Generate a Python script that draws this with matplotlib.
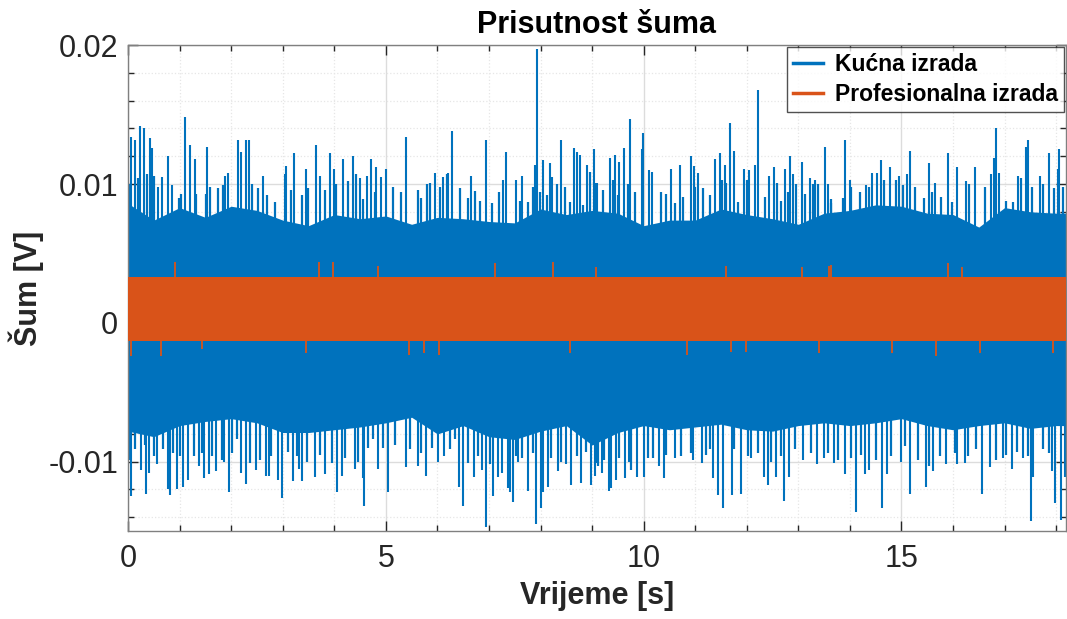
import matplotlib
matplotlib.use("Agg")
import matplotlib.pyplot as plt
from matplotlib.ticker import MultipleLocator
from matplotlib.lines import Line2D

# ---------------- data ----------------
t_env = [0.0, 0.5, 1.0, 1.5, 2.0, 2.5, 3.0, 3.5, 4.0, 4.5, 5.0, 5.5, 6.0, 6.5,
         7.0, 7.5, 8.0, 8.5, 9.0, 9.5, 10.0, 10.5, 11.0, 11.5, 12.0, 12.5,
         13.0, 13.5, 14.0, 14.5, 15.0, 15.5, 16.0, 16.5, 17.0, 17.5, 18.0, 18.19]
kucna_upper = [0.0086, 0.0074, 0.0083, 0.0076, 0.0084, 0.0081, 0.0074, 0.0070,
               0.0078, 0.0075, 0.0077, 0.0071, 0.0076, 0.0075, 0.0073, 0.0072,
               0.0082, 0.0078, 0.0081, 0.0079, 0.0070, 0.0074, 0.0074, 0.0082,
               0.0078, 0.0075, 0.0071, 0.0079, 0.0081, 0.0085, 0.0084, 0.0079,
               0.0078, 0.0069, 0.0083, 0.0080, 0.0079, 0.0079]
kucna_lower = [-0.0078, -0.0082, -0.0074, -0.0071, -0.0069, -0.0072, -0.0079,
               -0.0079, -0.0077, -0.0075, -0.0072, -0.0068, -0.0080, -0.0074,
               -0.0082, -0.0084, -0.0078, -0.0074, -0.0088, -0.0079, -0.0074,
               -0.0077, -0.0075, -0.0073, -0.0077, -0.0078, -0.0074, -0.0072,
               -0.0074, -0.0072, -0.0069, -0.0074, -0.0077, -0.0074, -0.0072,
               -0.0076, -0.0074, -0.0074]

# tall positive spikes
kucna_peak_t = [0.06, 0.14, 0.24, 0.30, 0.42, 0.47, 0.58, 0.66, 0.78, 0.85, 1.10,
                1.20, 1.30, 1.54, 1.88, 1.94, 2.13, 2.20, 2.28, 2.35, 2.62, 3.04,
                3.07, 3.22, 3.46, 3.64, 3.72, 3.92, 3.99, 4.16, 4.37, 4.50,
                4.63, 4.71, 4.81, 4.90, 5.00, 5.39, 5.95, 6.11, 6.20, 6.29, 6.66,
                6.95, 7.27, 7.34, 7.53, 7.64, 7.89, 7.94, 8.05, 8.18, 8.23, 8.39,
                8.65, 8.70, 8.77, 8.91, 9.04, 9.10,
                9.34, 9.45, 9.53, 9.61, 9.74, 9.96, 9.99, 10.10, 10.17, 10.54,
                10.71, 10.91, 10.97, 11.05, 11.39, 11.49, 11.58, 11.67, 11.76,
                11.94, 12.05, 12.16, 12.22, 12.44, 12.52, 12.75, 12.83, 12.89,
                13.07, 13.22, 13.33, 13.51, 13.57,
                13.90, 14.00, 14.31, 14.42, 14.52, 14.61, 14.77, 14.96, 15.10,
                15.17, 15.53, 15.66, 15.90, 16.07, 16.25, 16.43, 16.74, 16.80,
                16.83, 16.90, 17.27, 17.41, 17.46, 17.69, 17.87, 18.03, 18.06]
kucna_peak_v = [0.0134, 0.0132, 0.0142, 0.0140, 0.0133, 0.0126, 0.0098, 0.0105,
                0.0120, 0.0099, 0.0148, 0.0128, 0.0118, 0.0127, 0.0106, 0.0108,
                0.0132, 0.0123, 0.0132, 0.0132, 0.0106, 0.0107, 0.0113, 0.0122,
                0.0111, 0.0128, 0.0106, 0.0122, 0.0111, 0.0118, 0.0120, 0.0104,
                0.0106, 0.0118, 0.0112, 0.0105, 0.0111, 0.0134, 0.0108, 0.0105,
                0.0108, 0.0138, 0.0106, 0.0132, 0.0103, 0.0123, 0.0103, 0.0106,
                0.0114, 0.0197, 0.0117, 0.0115, 0.0105, 0.0132, 0.0126, 0.0123,
                0.0121, 0.0114, 0.0125, 0.0101,
                0.0119, 0.0121, 0.0116, 0.0126, 0.0147, 0.0125, 0.0137, 0.0110,
                0.0109, 0.0111, 0.0114, 0.0120, 0.0113, 0.0108, 0.0118, 0.0122,
                0.0114, 0.0144, 0.0124, 0.0111, 0.0110, 0.0114, 0.0168, 0.0106,
                0.0112, 0.0111, 0.0120, 0.0107, 0.0116, 0.0104, 0.0103, 0.0127,
                0.0100,
                0.0132, 0.0103, 0.0099, 0.0108, 0.0108, 0.0117, 0.0112, 0.0106,
                0.0107, 0.0124, 0.0115, 0.0101, 0.0122, 0.0112, 0.0102, 0.0112,
                0.0107, 0.0119, 0.0140, 0.0108, 0.0106, 0.0127, 0.0132, 0.0106,
                0.0122, 0.0111, 0.0125]

# medium positive peaks (the "grass" above the dense band)
kucna_mid_peak_t = [0.01, 0.19, 0.36, 0.51, 0.98, 1.03, 1.31, 1.51, 1.59, 1.75,
                    1.85, 2.40, 2.53, 2.69, 2.85, 3.17, 3.37, 3.49, 3.82, 4.04,
                    4.27, 4.43,
                    4.56, 4.79, 5.14, 5.30, 5.63, 5.69, 5.79, 5.85, 6.05, 6.19,
                    6.43, 6.60, 6.73, 6.82, 7.05, 7.20, 7.60, 7.76, 7.86, 7.99,
                    8.13, 8.31, 8.47, 8.57, 8.83, 8.95,
                    9.08, 9.21, 9.40, 9.50, 9.70, 9.83, 10.34, 10.44, 10.60,
                    10.76, 10.99, 11.15, 11.28, 11.52, 11.60, 11.83, 12.01, 12.35,
                    12.59, 12.67, 12.80, 12.96, 13.12, 13.28, 13.39, 13.63,
                    13.64, 13.86, 14.02, 14.19, 14.37, 14.67, 14.90, 15.03, 15.27,
                    15.44, 15.60, 15.77, 15.99, 16.31, 16.63, 17.03, 17.16, 17.32,
                    17.54, 17.74, 17.95, 18.13]
kucna_mid_peak_v = [0.0100, 0.0104, 0.0107, 0.0106, 0.0090, 0.0093, 0.0093, 0.0093,
                    0.0098, 0.0097, 0.0099, 0.0100, 0.0097, 0.0092, 0.0087, 0.0096,
                    0.0092, 0.0097, 0.0096, 0.0100, 0.0102, 0.0107,
                    0.0089, 0.0094, 0.0098, 0.0094, 0.0096, 0.0090, 0.0100, 0.0101,
                    0.0098, 0.0107, 0.0097, 0.0090, 0.0095, 0.0088, 0.0086, 0.0094,
                    0.0088, 0.0087, 0.0098, 0.0094, 0.0092, 0.0100, 0.0098, 0.0087,
                    0.0085, 0.0109,
                    0.0101, 0.0096, 0.0103, 0.0092, 0.0100, 0.0094, 0.0094, 0.0093,
                    0.0086, 0.0091, 0.0098, 0.0097, 0.0092, 0.0103, 0.0101, 0.0087,
                    0.0103, 0.0091, 0.0101, 0.0088, 0.0094, 0.0100, 0.0093, 0.0100,
                    0.0100, 0.0086,
                    0.0089, 0.0090, 0.0098, 0.0094, 0.0098, 0.0103, 0.0103, 0.0099,
                    0.0098, 0.0090, 0.0094, 0.0091, 0.0087, 0.0100, 0.0098, 0.0088,
                    0.0087, 0.0104, 0.0098, 0.0100, 0.0097, 0.0098]

# tall negative spikes
kucna_trough_t = [0.06, 0.25, 0.34, 0.41, 0.57, 0.77, 0.81, 0.94, 1.06, 1.16, 1.38,
                  1.47, 1.57, 1.71, 1.86, 1.96, 2.20, 2.28, 2.48, 2.67, 2.73, 2.90,
                  2.99, 3.19, 3.31, 3.38, 3.62, 3.82, 4.06, 4.15, 4.40, 4.58,
                  4.55, 4.84, 5.05, 5.39, 5.63, 5.77, 6.01, 6.13, 6.42, 6.49, 6.71,
                  6.86, 6.94, 7.08, 7.18, 7.26, 7.36, 7.41, 7.46, 7.57, 7.75, 7.92,
                  8.00, 8.05, 8.15, 8.34, 8.49, 8.60, 8.79, 8.98, 9.05,
                  9.08, 9.19, 9.32, 9.37, 9.47, 9.63, 9.71, 9.88, 10.01, 10.29,
                  10.39, 10.60, 10.96, 11.14, 11.35, 11.44, 11.54, 11.71, 11.89,
                  12.08, 12.34, 12.41, 12.56, 12.73, 12.82, 13.09, 13.37, 13.50,
                  13.69,
                  13.91, 14.12, 14.30, 14.38, 14.63, 14.72, 14.99, 15.16, 15.48,
                  15.62, 15.86, 16.08, 16.24, 16.56, 16.72, 16.96, 17.14, 17.36,
                  17.51, 17.56, 17.92, 17.97, 18.09, 18.18]
kucna_trough_v = [-0.0125, -0.0106, -0.0123, -0.0108, -0.0102, -0.0120, -0.0124,
                  -0.0120, -0.0118, -0.0113, -0.0103, -0.0112, -0.0109, -0.0107,
                  -0.0100, -0.0122, -0.0108, -0.0116, -0.0106, -0.0110, -0.0110,
                  -0.0113, -0.0126, -0.0114, -0.0105, -0.0114, -0.0111, -0.0109,
                  -0.0122, -0.0110, -0.0105, -0.0132,
                  -0.0112, -0.0105, -0.0122, -0.0104, -0.0103, -0.0110, -0.0100,
                  -0.0096, -0.0118, -0.0132, -0.0111, -0.0106, -0.0147, -0.0125,
                  -0.0111, -0.0108, -0.0119, -0.0122, -0.0129, -0.0100, -0.0121,
                  -0.0145, -0.0133, -0.0122, -0.0118, -0.0107, -0.0102, -0.0117,
                  -0.0115, -0.0117, -0.0110,
                  -0.0101, -0.0108, -0.0121, -0.0119, -0.0113, -0.0112, -0.0100,
                  -0.0111, -0.0111, -0.0103, -0.0112, -0.0097, -0.0099, -0.0101,
                  -0.0112, -0.0124, -0.0133, -0.0124, -0.0123, -0.0097, -0.0111,
                  -0.0117, -0.0111, -0.0128, -0.0111, -0.0099, -0.0102, -0.0097,
                  -0.0101,
                  -0.0109, -0.0136, -0.0109, -0.0106, -0.0133, -0.0109, -0.0100,
                  -0.0123, -0.0118, -0.0107, -0.0102, -0.0102, -0.0101, -0.0123,
                  -0.0104, -0.0097, -0.0105, -0.0097, -0.0143, -0.0111, -0.0107,
                  -0.0130, -0.0142, -0.0111]

# medium negative troughs
kucna_mid_trough_t = [0.01, 0.14, 0.32, 0.51, 0.68, 0.88, 1.01, 1.27, 1.43, 1.63,
                      1.82, 2.01, 2.11, 2.36, 2.56, 2.78, 3.11, 3.27, 3.48, 3.72,
                      3.95, 4.21, 4.46,
                      4.66, 4.75, 4.95, 5.17, 5.47, 5.69, 5.90, 6.24, 6.34, 6.60,
                      6.79, 7.02, 7.53, 7.65, 7.86, 8.21, 8.40, 8.70, 8.89, 9.12,
                      9.24, 9.53, 9.76, 10.08, 10.18, 10.44, 10.73, 10.92, 11.21,
                      11.28, 11.76, 12.02, 12.22, 12.47, 12.67, 12.93, 13.25, 13.57,
                      13.77, 14.02, 14.22, 14.51, 14.80, 15.06, 15.32, 15.54, 15.74,
                      16.03, 16.29, 16.45, 16.83, 17.03, 17.25, 17.45, 17.74, 17.87]
kucna_mid_trough_v = [-0.0099, -0.0091, -0.0088, -0.0096, -0.0091, -0.0094, -0.0096,
                      -0.0096, -0.0094, -0.0096, -0.0099, -0.0094, -0.0084, -0.0101,
                      -0.0099, -0.0096, -0.0093, -0.0096, -0.0100, -0.0095, -0.0101,
                      -0.0097, -0.0100,
                      -0.0090, -0.0084, -0.0090, -0.0088, -0.0091, -0.0094, -0.0090,
                      -0.0091, -0.0084, -0.0101, -0.0096, -0.0102, -0.0096, -0.0097,
                      -0.0094, -0.0097, -0.0100, -0.0096, -0.0093, -0.0103,
                      -0.0099, -0.0097, -0.0106, -0.0097, -0.0097, -0.0095, -0.0096,
                      -0.0094, -0.0095, -0.0091, -0.0091, -0.0096, -0.0094, -0.0100,
                      -0.0096, -0.0091, -0.0094, -0.0094,
                      -0.0099, -0.0097, -0.0095, -0.0099, -0.0096, -0.0089, -0.0099,
                      -0.0103, -0.0096, -0.0094, -0.0096, -0.0091, -0.0099, -0.0095,
                      -0.0093, -0.0096, -0.0091, -0.0094]

prof_env_t = [0.0, 18.19]
prof_upper = [0.0033, 0.0033]
prof_lower = [-0.0013, -0.0013]
prof_peak_t = [0.91, 3.70, 3.97, 4.84, 7.11, 8.24, 9.08, 11.60, 13.07, 13.60,
               13.64, 15.90, 16.18]
prof_peak_v = [0.0044, 0.0044, 0.0044, 0.0041, 0.0043, 0.0044, 0.0040, 0.0041,
               0.0040, 0.0041, 0.0042, 0.0043, 0.0040]
prof_trough_t = [0.06, 0.64, 1.44, 3.46, 5.45, 5.74, 6.03, 8.57, 10.85, 11.70,
                 11.99, 13.40, 14.82, 15.67, 16.52, 17.93]
prof_trough_v = [-0.0024, -0.0024, -0.0019, -0.0022, -0.0023, -0.0022, -0.0023,
                 -0.0022, -0.0023, -0.0021, -0.0021, -0.0022, -0.0022, -0.0024,
                 -0.0022, -0.0022]

t_end = 18.19
series_names = ["Kućna izrada", "Profesionalna izrada"]

# ---------------- style ----------------
BLUE = "#0072BD"
ORANGE = "#D95319"
plt.rcParams["font.family"] = ["Liberation Sans", "DejaVu Sans"]

fig = plt.figure(figsize=(10.67, 6.19), dpi=100)
ax = fig.add_axes([0.12, 0.142, 0.879, 0.785])

# Kućna izrada
ax.fill_between(t_env, kucna_lower, kucna_upper, color=BLUE, linewidth=0, zorder=2)
ax.vlines(kucna_mid_peak_t, 0, kucna_mid_peak_v, color=BLUE, linewidth=1.6, zorder=2)
ax.vlines(kucna_mid_trough_t, kucna_mid_trough_v, 0, color=BLUE, linewidth=1.6, zorder=2)
ax.vlines(kucna_peak_t, 0, kucna_peak_v, color=BLUE, linewidth=1.5, zorder=2)
ax.vlines(kucna_trough_t, kucna_trough_v, 0, color=BLUE, linewidth=1.5, zorder=2)

# Profesionalna izrada
ax.fill_between(prof_env_t, prof_lower, prof_upper, color=ORANGE, linewidth=0, zorder=3)
ax.vlines(prof_peak_t, 0, prof_peak_v, color=ORANGE, linewidth=1.3, zorder=3)
ax.vlines(prof_trough_t, prof_trough_v, 0, color=ORANGE, linewidth=1.3, zorder=3)

ax.set_xlim(0, t_end)
ax.set_ylim(-0.015, 0.02)
ax.xaxis.set_major_locator(MultipleLocator(5))
ax.xaxis.set_minor_locator(MultipleLocator(1))
ax.yaxis.set_minor_locator(MultipleLocator(0.002))
ax.set_yticks([-0.01, 0, 0.01, 0.02])
ax.set_yticklabels(["-0.01", "0", "0.01", "0.02"])

ax.grid(True, which="major", color="#dcdcdc", linewidth=1.0, zorder=0)
ax.grid(True, which="minor", color="#e6e6e6", linestyle=":", linewidth=0.9, zorder=0)
ax.set_axisbelow(True)

ax.tick_params(which="both", direction="in", top=True, right=True,
               colors="#262626", labelsize=22)
ax.tick_params(axis="y", pad=7)
ax.tick_params(axis="x", pad=9)
ax.tick_params(which="major", length=7, width=1)
ax.tick_params(which="minor", length=4, width=1)
for s in ax.spines.values():
    s.set_color("#808080")
    s.set_linewidth(1.0)

ax.set_title("Prisutnost šuma", fontsize=22, fontweight="bold", pad=9)
ax.set_xlabel("Vrijeme [s]", fontsize=22, fontweight="bold", color="#262626", labelpad=5)
ax.set_ylabel("Šum [V]", fontsize=22, fontweight="bold", color="#262626", labelpad=3)

handles = [Line2D([0], [0], color=BLUE, lw=2.5), Line2D([0], [0], color=ORANGE, lw=2.5)]
leg = ax.legend(handles, series_names, loc="upper right",
                prop={"weight": "bold", "size": 16.5}, frameon=True, fancybox=False,
                edgecolor="#262626", borderaxespad=0.1, handlelength=1.35,
                borderpad=0.25, labelspacing=0.3, handletextpad=0.5)
leg.get_frame().set_linewidth(1.0)

fig.savefig("out.png", dpi=100)
